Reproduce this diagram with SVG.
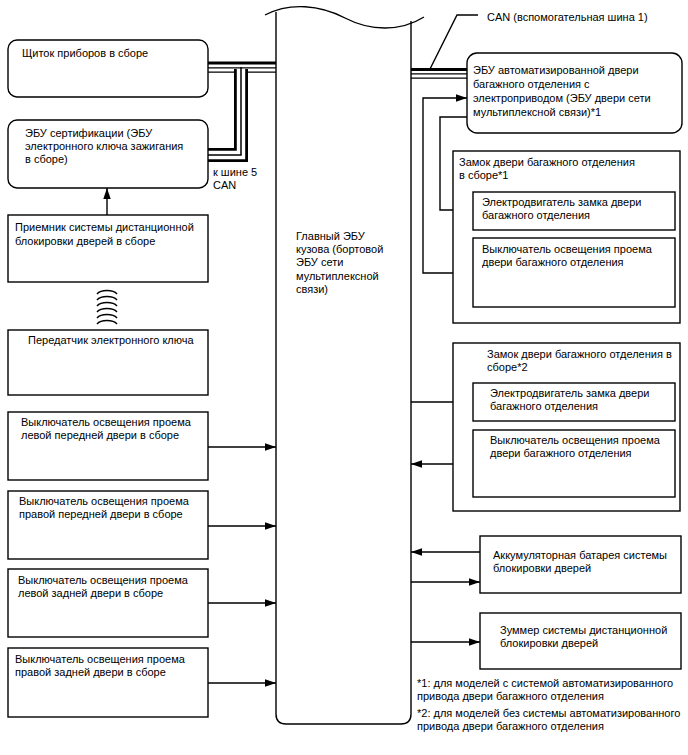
<svg xmlns="http://www.w3.org/2000/svg" width="688" height="755" viewBox="0 0 688 755">
<style>
text{font-family:"Liberation Sans",Arial,sans-serif;font-size:11px;fill:#000}
.b{fill:#fff;stroke:#000;stroke-width:1.4}
.l{fill:none;stroke:#000;stroke-width:1.4}
.thk{fill:none;stroke:#000;stroke-width:3}
.dbk{fill:none;stroke:#000;stroke-width:5.6}
.dwh{fill:none;stroke:#fff;stroke-width:2.8}
</style>
<defs>
<marker id="ar" markerUnits="userSpaceOnUse" markerWidth="11" markerHeight="8" refX="11" refY="4" orient="auto">
<path d="M0,0.3 L11,4 L0,7.7 z" fill="#000"/>
</marker>
</defs>
<rect width="688" height="755" fill="#fff"/>

<g id="connectors">
<!-- CAN left -->
<path class="thk" d="M208,63 H276"/>
<path class="dbk" d="M208,70 H276"/>
<path class="dwh" d="M208,70 H276"/>
<path d="M241,69 V155 H208" fill="none" stroke="#000" stroke-width="14"/>
<path d="M241,69 V155 H208" fill="none" stroke="#fff" stroke-width="8.4"/>
<path d="M241,67 V155 H208" fill="none" stroke="#000" stroke-width="1.5"/>
<!-- CAN right -->
<path class="thk" d="M411,69.5 H467"/>
<path class="dbk" d="M411,76 H467"/>
<path class="dwh" d="M411,76 H467"/>
<path class="l" d="M430,69 L457,15 H478" stroke-width="1"/>
<!-- receiver to cert -->
<path class="l" d="M107,215 V188" marker-end="url(#ar)"/>
<!-- wireless -->
<path class="l" stroke-width="1.2" d="M97,294 A11,6 0 0 1 117,294 M97,300 A11,6 0 0 1 117,300 M97,306 A11,6 0 0 1 117,306 M97,312 A11,6 0 0 1 117,312 M97,318 A11,6 0 0 1 117,318 M97,324 A11,6 0 0 1 117,324"/>
<!-- door switches -->
<path class="l" d="M208,447 H276" marker-end="url(#ar)"/>
<path class="l" d="M208,526 H276" marker-end="url(#ar)"/>
<path class="l" d="M208,603 H276" marker-end="url(#ar)"/>
<path class="l" d="M208,683 H276" marker-end="url(#ar)"/>
<!-- lock 1 -->
<path class="l" d="M473,273 H423 V98 H467" marker-end="url(#ar)"/>
<path class="l" d="M467,117 H440 V210 H473" marker-end="url(#ar)"/>
<!-- lock 2 -->
<path class="l" d="M411,402 H473" marker-end="url(#ar)"/>
<path class="l" d="M473,464 H411" marker-end="url(#ar)"/>
<!-- battery -->
<path class="l" d="M480,552 H411" marker-end="url(#ar)"/>
<path class="l" d="M411,582 H480" marker-end="url(#ar)"/>
<!-- buzzer -->
<path class="l" d="M411,642 H480" marker-end="url(#ar)"/>
</g>

<g id="main-ecu">
<path class="l" d="M265,15 C290,2 320,5 345,18 S400,32 424,17"/>
<path class="l" d="M276,12 V714 Q276,724 286,724 H401 Q411,724 411,714 V21"/>
<text x="296" y="240">Главный ЭБУ</text>
<text x="296" y="253">кузова (бортовой</text>
<text x="296" y="266">ЭБУ сети</text>
<text x="296" y="280">мультиплексной</text>
<text x="296" y="293">связи)</text>
</g>

<g id="combination-meter">
<rect class="b" x="8" y="40" width="200" height="57" rx="9"/>
<text x="22" y="57">Щиток приборов в сборе</text>
</g>

<g id="certification-ecu">
<rect class="b" x="8" y="120" width="200" height="68" rx="9"/>
<text x="25" y="137">ЭБУ сертификации (ЭБУ</text>
<text x="25" y="150">электронного ключа зажигания</text>
<text x="25" y="163">в сборе)</text>
</g>

<g id="can5-label">
<text x="213" y="176">к шине 5</text>
<text x="213" y="189">CAN</text>
</g>

<g id="receiver">
<rect class="b" x="8" y="215" width="200" height="67"/>
<text x="15" y="231">Приемник системы дистанционной</text>
<text x="15" y="245">блокировки дверей в сборе</text>
</g>

<g id="transmitter">
<rect class="b" x="8" y="330" width="200" height="65"/>
<text x="28" y="344">Передатчик электронного ключа</text>
</g>

<g id="lf-switch">
<rect class="b" x="8" y="412" width="200" height="68"/>
<text x="21" y="426">Выключатель освещения проема</text>
<text x="21" y="439">левой передней двери в сборе</text>
</g>

<g id="rf-switch">
<rect class="b" x="8" y="491" width="200" height="68"/>
<text x="19" y="505">Выключатель освещения проема</text>
<text x="19" y="518">правой передней двери в сборе</text>
</g>

<g id="lr-switch">
<rect class="b" x="8" y="569" width="200" height="68"/>
<text x="18" y="584">Выключатель освещения проема</text>
<text x="18" y="597">левой задней двери в сборе</text>
</g>

<g id="rr-switch">
<rect class="b" x="8" y="648" width="200" height="69"/>
<text x="15" y="663">Выключатель освещения проема</text>
<text x="15" y="676">правой задней двери в сборе</text>
</g>

<g id="can-label">
<text x="487" y="21">CAN (вспомогательная шина 1)</text>
</g>

<g id="backdoor-ecu">
<rect class="b" x="467" y="53" width="215" height="80" rx="10"/>
<text x="473" y="74">ЭБУ автоматизированной двери</text>
<text x="473" y="88">багажного отделения с</text>
<text x="473" y="102">электроприводом (ЭБУ двери сети</text>
<text x="473" y="116">мультиплексной связи)*1</text>
</g>

<g id="lock1">
<rect class="b" x="453" y="151" width="227" height="172"/>
<text x="459" y="166">Замок двери багажного отделения</text>
<text x="459" y="179">в сборе*1</text>
</g>
<g id="lock1-motor">
<rect class="b" x="473" y="192" width="202" height="38"/>
<text x="482" y="206">Электродвигатель замка двери</text>
<text x="482" y="219">багажного отделения</text>
</g>
<g id="lock1-switch">
<rect class="b" x="473" y="238" width="202" height="69"/>
<text x="482" y="253">Выключатель освещения проема</text>
<text x="482" y="266">двери багажного отделения</text>
</g>

<g id="lock2">
<rect class="b" x="453" y="343" width="227" height="168"/>
<text x="487" y="358">Замок двери багажного отделения в</text>
<text x="487" y="371">сборе*2</text>
</g>
<g id="lock2-motor">
<rect class="b" x="473" y="383" width="202" height="38"/>
<text x="490" y="397">Электродвигатель замка двери</text>
<text x="490" y="410">багажного отделения</text>
</g>
<g id="lock2-switch">
<rect class="b" x="473" y="430" width="202" height="67"/>
<text x="490" y="444">Выключатель освещения проема</text>
<text x="490" y="457">двери багажного отделения</text>
</g>

<g id="battery">
<rect class="b" x="480" y="536" width="201" height="57"/>
<text x="493" y="559">Аккумуляторная батарея системы</text>
<text x="493" y="572">блокировки дверей</text>
</g>

<g id="buzzer">
<rect class="b" x="480" y="613" width="201" height="56"/>
<text x="500" y="634">Зуммер системы дистанционной</text>
<text x="500" y="647">блокировки дверей</text>
</g>

<g id="footnotes">
<text x="417" y="687">*1: для моделей с системой автоматизированного</text>
<text x="417" y="700">привода двери багажного отделения</text>
<text x="417" y="717">*2: для моделей без системы автоматизированного</text>
<text x="417" y="730">привода двери багажного отделения</text>
</g>
</svg>
